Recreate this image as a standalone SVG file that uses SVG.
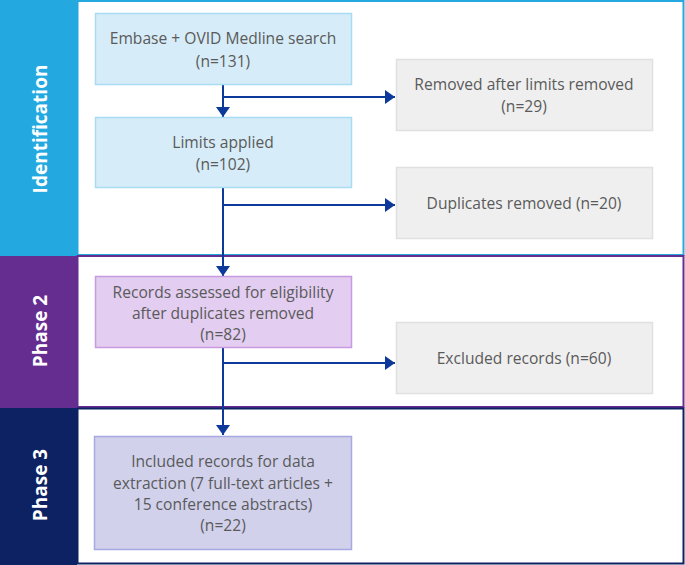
<svg xmlns="http://www.w3.org/2000/svg" width="685" height="565" viewBox="0 0 685 565">
<style>
.t{font-family:"Open Sans","Liberation Sans",sans-serif;font-size:15.6px;fill:#5a5a5a;text-anchor:middle}
.band{font-family:"Open Sans","Liberation Sans",sans-serif;font-size:19px;font-weight:bold;fill:#ffffff;text-anchor:middle}
.con{stroke:#0d3a9a;stroke-width:2;fill:none}
.gray{fill:#efefef;stroke:#e0e0e0;stroke-width:1.5}
</style>
<defs>
<marker id="ah" markerWidth="10" markerHeight="14" refX="10" refY="7" orient="auto" markerUnits="userSpaceOnUse" viewBox="0 0 10 14">
<path d="M0,0 L10,7 L0,14 z" fill="#0d3a9a"/>
</marker>
</defs>
<rect width="685" height="565" fill="#ffffff"/>
<g id="section-identification">
<rect x="0" y="0" width="77" height="256" fill="#24a8e0"/>
<rect x="77.5" y="1" width="606" height="254" fill="#ffffff" stroke="#24a8e0" stroke-width="2"/>
<text class="band" transform="translate(47,129) rotate(-90)">Identification</text>
</g>
<g id="section-phase2">
<rect x="0" y="256" width="77" height="152" fill="#662d91"/>
<rect x="77.5" y="256" width="606" height="151" fill="#ffffff" stroke="#662d91" stroke-width="2"/>
<text class="band" transform="translate(47,331) rotate(-90)">Phase 2</text>
</g>
<g id="section-phase3">
<rect x="0" y="408" width="77" height="157" fill="#0c2262"/>
<rect x="77.5" y="408.5" width="606" height="155" fill="#ffffff" stroke="#0c2262" stroke-width="2"/>
<text class="band" transform="translate(47,485) rotate(-90)">Phase 3</text>
</g>
<g id="connectors">
<line class="con" x1="223" y1="85" x2="223" y2="117" marker-end="url(#ah)"/>
<line class="con" x1="223" y1="97" x2="395" y2="97" marker-end="url(#ah)"/>
<line class="con" x1="223" y1="188" x2="223" y2="276" marker-end="url(#ah)"/>
<line class="con" x1="223" y1="205" x2="395" y2="205" marker-end="url(#ah)"/>
<line class="con" x1="223" y1="348" x2="223" y2="435" marker-end="url(#ah)"/>
<line class="con" x1="223" y1="363" x2="395" y2="363" marker-end="url(#ah)"/>
</g>
<g id="n-search">
<rect x="95.5" y="13.5" width="256" height="71" fill="#d6ecf8" stroke="#a9dcf3" stroke-width="1.5"/>
<text class="t" x="223" y="44">Embase + OVID Medline search</text>
<text class="t" x="223" y="67">(n=131)</text>
</g>
<g id="n-limits">
<rect x="95.5" y="117.5" width="256" height="70" fill="#d6ecf8" stroke="#a9dcf3" stroke-width="1.5"/>
<text class="t" x="223" y="148">Limits applied</text>
<text class="t" x="223" y="170">(n=102)</text>
</g>
<g id="n-removed-limits">
<rect class="gray" x="396.5" y="59.5" width="256" height="71"/>
<text class="t" x="524" y="90">Removed after limits removed</text>
<text class="t" x="524" y="112">(n=29)</text>
</g>
<g id="n-duplicates">
<rect class="gray" x="396.5" y="167.5" width="256" height="71"/>
<text class="t" x="524" y="209">Duplicates removed (n=20)</text>
</g>
<g id="n-assessed">
<rect x="95.5" y="276.5" width="256" height="71" fill="#e3cdf1" stroke="#c89be0" stroke-width="1.5"/>
<text class="t" x="223" y="298">Records assessed for eligibility</text>
<text class="t" x="223" y="319">after duplicates removed</text>
<text class="t" x="223" y="340">(n=82)</text>
</g>
<g id="n-excluded">
<rect class="gray" x="396.5" y="322.5" width="256" height="71"/>
<text class="t" x="524" y="364">Excluded records (n=60)</text>
</g>
<g id="n-included">
<rect x="94.5" y="436.5" width="257" height="113" fill="#d1d1ec" stroke="#a9a9e2" stroke-width="1.5"/>
<text class="t" x="223" y="467">Included records for data</text>
<text class="t" x="223" y="489">extraction (7 full-text articles +</text>
<text class="t" x="223" y="510">15 conference abstracts)</text>
<text class="t" x="223" y="531">(n=22)</text>
</g>
</svg>
